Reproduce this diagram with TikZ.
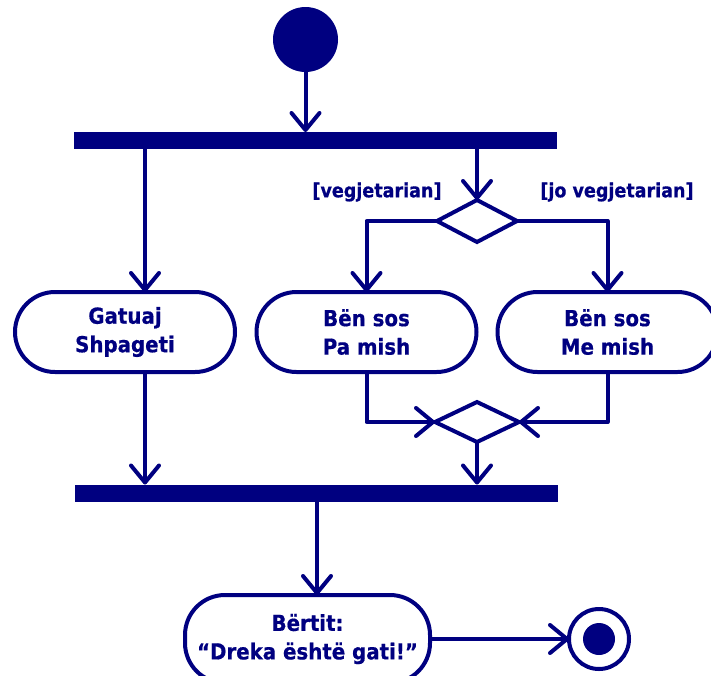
\documentclass[tikz,border=0pt]{standalone}
\usepackage{fontspec}
\setmainfont{DejaVu Sans}
\newfontfamily\labelfont{DejaVu Sans Condensed}[BoldFeatures={FakeBold=0.6}]
\usetikzlibrary{arrows.meta,shapes.geometric}
\definecolor{umlnavy}{RGB}{0,0,128}
\begin{document}
\begin{tikzpicture}[x=1pt,y=-1pt,
  every node/.style={inner sep=0pt,outer sep=0pt},
  flow/.style={draw=umlnavy,line width=4pt,line cap=round,line join=round,
    -{Straight Barb[length=17pt,width=28pt,round]}},
  action/.style={draw=umlnavy,line width=4pt,rectangle,rounded corners=40pt,
    minimum height=80pt,minimum width=220pt,align=center,text=umlnavy,
    font=\labelfont\fontsize{22}{28.5}\selectfont\bfseries},
  syncbar/.style={fill=umlnavy,rectangle,minimum height=17pt,minimum width=483pt},
  choice/.style={draw=umlnavy,line width=4pt,diamond,line join=miter},
  guard/.style={text=umlnavy,font=\labelfont\fontsize{19.5}{22}\selectfont\bfseries}]
\useasboundingbox (0,0) rectangle (711,675);

% initial and final nodes
\node[circle,fill=umlnavy,minimum size=65pt] (start) at (305.5,39.5) {};
\node[circle,draw=umlnavy,line width=4pt,minimum size=60pt] (final) at (599,639) {};
\node[circle,fill=umlnavy,minimum size=32pt] (finaldot) at (final) {};

% fork and join bars
\node[syncbar] (fork) at (315.5,140.5) {};
\node[syncbar] (join) at (316.5,493) {};

% actions
\node[action] (gatuaj) at (125,332) {Gatuaj\\Shpageti};
\node[action] (pamish) at (366.5,332) {Bën sos\\Pa mish};
\node[action] (memish) at (607.5,332) {Bën sos\\Me mish};
\node[action,minimum width=245pt,minimum height=88pt] (bertit) at (307.5,639)
  {Bërtit:\\“Dreka është gati!”};

% decision and merge
\node[choice,minimum width=80pt,minimum height=42pt] (decide) at (477,221) {};
\node[choice,minimum width=84pt,minimum height=40pt] (merge) at (477,422) {};

% guards
\node[guard] (gveg) at (377,192) {[vegjetarian]};
\node[guard] (gjoveg) at (617,192) {[jo vegjetarian]};

% column positions of the vertical flows
\coordinate (colA) at (145,0);
\coordinate (colB) at (317,0);

% flows
\draw[flow] (start.south) -- (start.south |- fork.north);
\draw[flow] (colA |- fork.south) -- (colA |- gatuaj.north);
\draw[flow] (decide.north |- fork.south) -- (decide.north);
\draw[flow] (decide.west) -| (pamish.north);
\draw[flow] (decide.east) -| (memish.north);
\draw[flow] (pamish.south) |- (merge.west);
\draw[flow] (memish.south) |- (merge.east);
\draw[flow] (merge.south) -- (merge.south |- join.north);
\draw[flow] (colA |- gatuaj.south) -- (colA |- join.north);
\draw[flow] (colB |- join.south) -- (colB |- bertit.north);
\draw[flow] (bertit.east) -- (final.west);
\end{tikzpicture}
\end{document}
